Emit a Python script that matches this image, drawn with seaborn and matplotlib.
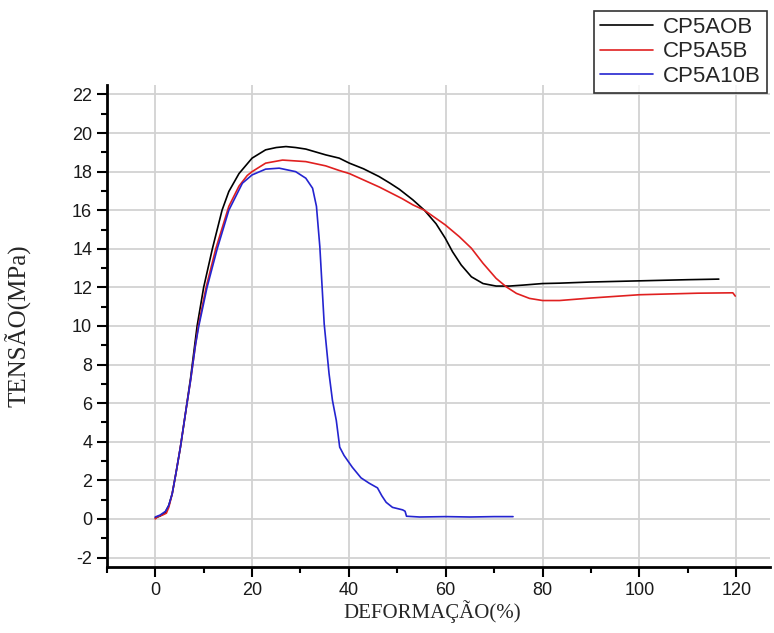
import numpy as np
import pandas as pd
import seaborn as sns
import matplotlib.pyplot as plt
import matplotlib as mpl

# strain (%) / stress (MPa)
x_aob = [0, 1, 2.1, 2.8, 3.5, 4.3, 5.2, 6.2, 7.3, 8.65, 10.0, 11.8, 13.8, 15.2, 17.3,
         20.0, 22.8, 25, 27.0, 29, 31.1, 35.2, 38.0, 40.1, 43, 46.2, 48.5, 50.4, 53.2,
         55.6, 58.0, 59.9, 61.4, 63.2, 65.3, 67.7, 70.4, 73.2, 76, 80, 83.5, 90, 100,
         110, 116.4]
y_aob = [0.05, 0.15, 0.35, 0.7, 1.3, 2.4, 3.72, 5.4, 7.3, 10, 12, 14, 16, 16.97, 17.9,
         18.7, 19.13, 19.25, 19.3, 19.25, 19.17, 18.87, 18.7, 18.44, 18.15, 17.75, 17.4,
         17.09, 16.54, 16.0, 15.3, 14.55, 13.85, 13.16, 12.55, 12.2, 12.07, 12.07, 12.12,
         12.2, 12.22, 12.28, 12.34, 12.4, 12.43]

x_a5b = [0, 0.5, 1.5, 2.3, 2.8, 3.5, 4.3, 5.2, 6.2, 7.3, 8.3, 8.9, 10.5, 12.5, 15.2,
         17.3, 19.0, 20.0, 22.8, 26.3, 31.1, 35.2, 38.0, 40.1, 46.3, 51, 53.2, 55.6,
         59.9, 62.8, 65.3, 67.7, 70.4, 72.5, 74.6, 77.3, 80, 83.5, 90, 100, 112, 119.3,
         119.8]
y_a5b = [0.0, 0.12, 0.2, 0.3, 0.6, 1.3, 2.4, 3.72, 5.4, 7.18, 9.0, 10, 12, 14, 16.2,
         17.25, 17.8, 18.0, 18.44, 18.6, 18.52, 18.3, 18.06, 17.9, 17.2, 16.6, 16.28,
         16.0, 15.24, 14.63, 14.03, 13.25, 12.47, 12.03, 11.69, 11.43, 11.32, 11.32,
         11.45, 11.62, 11.7, 11.72, 11.55]

x_a10b = [0, 1, 2.1, 2.8, 3.5, 4.3, 5.2, 6.2, 7.3, 8.3, 9.0, 10.7, 12.8, 15.2, 18.0,
          20.0, 22.8, 25.6, 29.0, 31.1, 32.5, 33.3, 34.0, 34.9, 35.9, 36.6, 37.4, 38.1,
          39.0, 40.7, 42.5, 44.2, 45.9, 46.8, 47.7, 49.0, 51.1, 51.6, 51.9, 54.6, 60,
          65, 70, 73.9]
y_a10b = [0.1, 0.2, 0.39, 0.7, 1.3, 2.4, 3.72, 5.4, 7.18, 9.0, 10, 12, 14, 16.0, 17.4,
          17.83, 18.13, 18.18, 18.0, 17.66, 17.14, 16.2, 14.1, 10.1, 7.53, 6.15, 5.1,
          3.72, 3.29, 2.68, 2.13, 1.85, 1.61, 1.2, 0.86, 0.6, 0.47, 0.4, 0.14, 0.1,
          0.12, 0.1, 0.12, 0.12]

labels = ["CP5AOB", "CP5A5B", "CP5A10B"]
colors = ["black", "#e02020", "#2424d0"]

df = pd.concat([
    pd.DataFrame({"x": x_aob, "y": y_aob, "amostra": labels[0]}),
    pd.DataFrame({"x": x_a5b, "y": y_a5b, "amostra": labels[1]}),
    pd.DataFrame({"x": x_a10b, "y": y_a10b, "amostra": labels[2]}),
])

sns.set_theme(style="ticks")
plt.rcParams["font.family"] = ["Liberation Sans", "DejaVu Sans"]
plt.rcParams["axes.unicode_minus"] = False

fig = plt.figure(figsize=(7.74, 6.33), dpi=100)
ax = fig.add_axes([0.138, 0.104, 0.857, 0.762])

sns.lineplot(data=df, x="x", y="y", hue="amostra", palette=colors, estimator=None,
             sort=False, linewidth=1.2, ax=ax, legend=False)

ax.set_xlim(-10, 127)
ax.set_ylim(-2.5, 22.5)
ax.set_xticks(np.arange(0, 121, 20))
ax.set_yticks(np.arange(-2, 23, 2))
ax.xaxis.set_minor_locator(mpl.ticker.MultipleLocator(10))
ax.yaxis.set_minor_locator(mpl.ticker.MultipleLocator(1))
ax.grid(True, which="major", color="#d2d2d2", linewidth=1.3)
ax.set_axisbelow(True)

sns.despine(ax=ax)
for s in ["left", "bottom"]:
    ax.spines[s].set_linewidth(2)
    ax.spines[s].set_color("black")
ax.tick_params(which="major", length=7, width=1.5, labelsize=13, color="black",
               labelcolor="#1a1a1a")
ax.tick_params(which="minor", length=4, width=1.5, color="black")

ax.set_xlabel("DEFORMAÇÃO(%)", family="Liberation Serif", fontsize=15)
ax.set_ylabel("TENSÃO(MPa)", family="Liberation Serif", fontsize=18)
ax.xaxis.set_label_coords(0.49, -0.068)
ax.yaxis.set_label_coords(-0.114, 0.5)

handles = [mpl.lines.Line2D([], [], color=c, linewidth=1.2) for c in colors]
leg = fig.legend(handles, labels, loc="upper left", bbox_to_anchor=(594 / 774, 1 - 11 / 633),
                 frameon=True, fancybox=False, fontsize=16, handlelength=2.4,
                 borderaxespad=0, labelspacing=0.15, borderpad=0.27, handletextpad=0.45)
leg.get_frame().set_edgecolor("black")
leg.get_frame().set_linewidth(1.2)

fig.savefig("out.png", dpi=100)
